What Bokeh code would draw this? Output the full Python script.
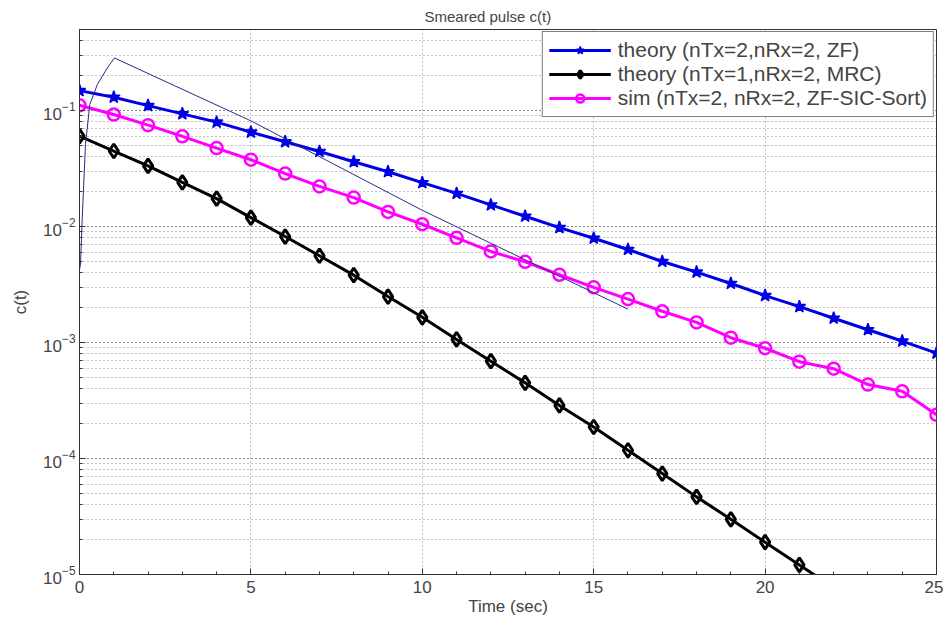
import numpy as np
from bokeh.plotting import figure
from bokeh.models import Range1d, SingleIntervalTicker, Legend
from bokeh.embed import file_html
from bokeh.resources import INLINE

# ---- data ----
t_sym = list(range(0, 26))
zf_theory = [0.1486, 0.1303, 0.1104, 0.0937, 0.0795, 0.0652, 0.0538, 0.0444, 0.0362, 0.0297,
             0.0239, 0.0193, 0.01537, 0.01227, 0.00980, 0.00793, 0.00634, 0.00500, 0.00405,
             0.00323, 0.00254, 0.00204, 0.00162, 0.00129, 0.00103, 0.00081]
sic_sim = [0.111, 0.0924, 0.0749, 0.0600, 0.0475, 0.0377, 0.0286, 0.0222, 0.01776, 0.01338,
           0.01047, 0.00799, 0.00610, 0.00497, 0.00384, 0.00299, 0.00237, 0.00186, 0.00149,
           0.00110, 0.000893, 0.000684, 0.000595, 0.000434, 0.000380, 0.000238]
t_mrc = list(range(0, 23))
mrc_theory = [0.0602, 0.0448, 0.0333, 0.0240, 0.0174, 0.01195, 0.00820, 0.00560, 0.00381,
              0.00249, 0.00165, 0.001063, 0.000691, 0.000449, 0.000287, 0.000187, 0.0001179,
              7.42e-5, 4.67e-5, 2.99e-5, 1.90e-5, 1.21e-5, 7.7e-6]
t_pulse = [0.0, 0.03, 0.08, 0.175, 0.30, 0.52, 0.81, 1.02, 5.0, 10.0, 16.0]
c_pulse = [0.00425, 0.00474, 0.0119, 0.0511, 0.1127, 0.1675, 0.233, 0.284, 0.0815, 0.0138, 0.00194]

labels = ["theory (nTx=2,nRx=2, ZF)", "theory (nTx=1,nRx=2, MRC)",
          "sim (nTx=2, nRx=2, ZF-SIC-Sort)"]

FONT = "Liberation Sans"

p = figure(width=943, height=618, frame_width=857, frame_height=545,
           y_axis_type="log", x_range=Range1d(0, 25), y_range=Range1d(1e-5, 0.5),
           output_backend="svg", toolbar_location=None,
           min_border_left=79, min_border_right=7, min_border_top=29, min_border_bottom=44,
           background_fill_color="white", border_fill_color="white")

p.title.text = "Smeared pulse c(t)"
p.title.align = "left"
p.title.offset = 345
p.title.text_font = FONT
p.title.text_font_size = "15px"
p.title.text_font_style = "normal"
p.title.standoff = 6
p.title.vertical_align = "top"

p.outline_line_color = "#333333"
p.outline_line_width = 1

# axes
p.xaxis.ticker = SingleIntervalTicker(interval=5)
p.xaxis.axis_label = "Time (sec)"
p.yaxis.axis_label = "c(t)"
for ax in (p.xaxis[0], p.yaxis[0]):
    ax.axis_label_text_font = FONT
    ax.axis_label_text_font_size = "17px"
    ax.axis_label_text_font_style = "normal"
    ax.major_label_text_font = FONT
    ax.major_label_text_font_size = "17px"
    ax.major_tick_in = 6
    ax.major_tick_out = 0
    ax.minor_tick_in = 3
    ax.minor_tick_out = 0
    ax.axis_line_color = "#333333"
    ax.major_tick_line_color = "#333333"
    ax.minor_tick_line_color = "#333333"
p.xaxis.axis_label_standoff = 1
p.yaxis.axis_label_standoff = 10
p.xaxis.major_label_standoff = 6
p.yaxis.major_label_standoff = 4

# grids
p.xgrid.grid_line_color = "#666666"
p.xgrid.grid_line_dash = "1 3"
p.xgrid.grid_line_alpha = 0.8
p.ygrid.grid_line_color = "#666666"
p.ygrid.grid_line_dash = "1 3"
p.ygrid.grid_line_alpha = 0.8
p.ygrid.minor_grid_line_color = "#666666"
p.ygrid.minor_grid_line_dash = "1 3"
p.ygrid.minor_grid_line_alpha = 0.8

BLUE = "#0000e6"
MAG = "#ff00ff"

r1l = p.line(t_sym, zf_theory, line_color=BLUE, line_width=3)
r1m = p.scatter(t_sym, zf_theory, marker="star", size=13, fill_color=BLUE, line_color=BLUE,
                line_width=1.5)
r2l = p.line(t_mrc, mrc_theory, line_color="black", line_width=3)
r2m = p.scatter(t_mrc, mrc_theory, marker="diamond", size=14, fill_color=None,
                line_color="black", line_width=3)
r3l = p.line(t_sym, sic_sim, line_color=MAG, line_width=3)
r3m = p.scatter(t_sym, sic_sim, marker="circle", size=12, fill_color=None,
                line_color=MAG, line_width=2.5)
p.line(t_pulse, c_pulse, line_color="#2a2a8a", line_width=1)

legend = Legend(items=[(labels[0], [r1l, r1m]), (labels[1], [r2l, r2m]), (labels[2], [r3l, r3m])],
                location="top_right")
legend.label_text_font = FONT
legend.label_text_font_size = "21px"
legend.glyph_width = 62
legend.glyph_height = 20
legend.spacing = -3
legend.padding = 6
legend.margin = 2
legend.label_standoff = 7
legend.label_height = 20
legend.border_line_color = "black"
legend.border_line_width = 1
legend.background_fill_alpha = 1
p.add_layout(legend)

open("out.html", "w").write(file_html(p, INLINE))
